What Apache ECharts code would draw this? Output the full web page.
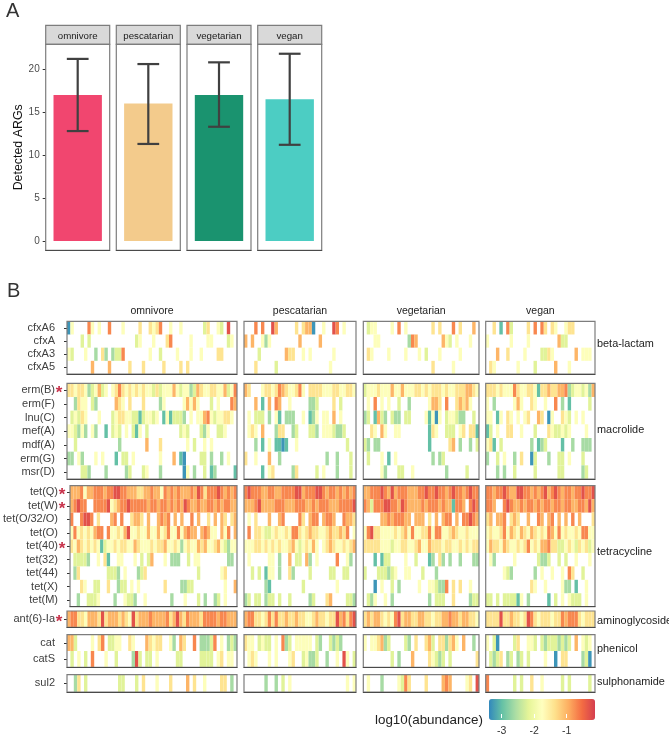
<!DOCTYPE html>
<html><head><meta charset="utf-8">
<style>html,body{margin:0;padding:0;background:#fff}#c{width:669px;height:737px}</style>
<script src="https://cdn.jsdelivr.net/npm/echarts@6/dist/echarts.min.js"></script>
</head><body><div id="c"></div>
<script>
// ---------- Panel A values ----------
const diets = ['omnivore','pescatarian','vegetarian','vegan'];
const meanARGs = [17, 16, 17, 16.5];
const lowARGs  = [12.8, 11.3, 13.3, 11.2];
const highARGs = [21.2, 20.6, 20.8, 21.8];
const barColors = ['#F1466F','#F3CB8C','#1A936F','#4CCDC3'];
const countTicks = [0,5,10,15,20];

// ---------- Panel B labels ----------
const betaLactamGenes = ['cfxA6','cfxA','cfxA3','cfxA5'];
const macrolideGenes = ['erm(B)','erm(F)','lnu(C)','mef(A)','mdf(A)','erm(G)','msr(D)'];
const tetracyclineGenes = ['tet(Q)','tet(W)','tet(O/32/O)','tet(O)','tet(40)','tet(32)','tet(44)','tet(X)','tet(M)'];
const aminoglycosideGenes = ['ant(6)-Ia'];
const phenicolGenes = ['cat','catS'];
const sulphonamideGenes = ['sul2'];
const starredGenes = ['erm(B)','tet(Q)','tet(W)','tet(40)','ant(6)-Ia'];
const classNames = ['beta-lactam','macrolide','tetracycline','aminoglycoside','phenicol','sulphonamide'];
const sampleCounts = [50,33,34,32];
const legendTicks = [-3,-2,-1];

// abundance level read from each cell's colour (. = not detected)
const levelValues = {1:-3.3,2:-3.0,3:-2.6,4:-2.2,5:-1.8,6:-1.4,7:-1.0,8:-0.7,9:-0.3};

const omnivoreCells = [
"15....85.5 ..8...5... .6..6568.. 5..5...... 46..54.9..",
"....4.4... .......... 45...5...6 8.....5... .55....45.",
"54...5..3. 63.3448... ....5..4.. ..5...5..5 ....66....",
".......7.. ..7.....6. ..6.....6. ...6.6.... ..........",
"6656653457 45.5686565 6565546455 5754553476 5566557458",
"..3655.43. ....765.6. ..6....35. ....57575. ..4.5...87",
".45465...5 ...4566554 4245545.25 24443.5.55 785455665.",
"554353.53. .2.454.5.4 25.4...... ...454...4 35..445...",
"..4....... .....3.... ...7...6.. .....5.4.. 5.5.......",
"33.53...5. 5...2.44.5 .......5.. .7.21....4 4.3..3.5..",
"....443... .3.....34. ..45...3.. ....15.3.. 4.23.....2",
"7778577888 7889988777 6677877587 8787778798 6888987878",
"78988..888 8956788988 8887887887 8787987787 7887878877",
"8..8998.6. ..78.8..67 76.7..7878 .7.7..8.7. .6.7.76.67",
"5856565788 .855657955 6557557568 55857877.7 8755.758.7",
"6576565652 4556566557 6555656675 5653565576 7556754355",
".44443..5. 62..55...5 .4.47...5. 333..4.55. .......33.",
".36....... .4443.5... 346....... ........4. .....56...",
"...65..44. .6..344.5. 5.......6. ...3344... ......5..7",
"..3..4445. ...3..5443 ..5....... 3...5...4. 3..34.5...",
"7886657776 9677767659 6777877778 6797687776 8888788777",
"774....5.6 8.4455..65 ...76566.. 53.76..8.3 3348.5.343",
".4.5.4.8.. .5..4....3 94.44.5... ..44.....4 444.56.55.",
"..36.4.... .....44... 4.6...5... 6....7.6.. 5....66.3."
];
const pescatarianCells = [
"...8.8..97 .....6.677 1..5..98.5 ...",
"7.7..535.. ......7... ..7....... ...",
"....4..... ..766..5.5 ......5... ...",
"...6.....4 .......... .....5.... ...",
"76...56656 87655685.6 6665556655 665",
"...7.2.7.8 7..5.....3 34....6.4. ...",
".5.444.3.5 2.333..5.2 35.55.7.5. ...",
".565.7...3 66..34...4 43.5554334 ...",
"...3.2.5.2 212..5.... .......... 4..",
"6..5...7.. 3......... ....3..3.. .4.",
".....2.56. ....36.... .4.5...3.. .4.",
"8988877887 7888899788 8998788787 878",
"7778977778 8877788877 8788877788 889",
".5.6...7.. 78....86.7 88.7887..8 776",
".8.6654456 5565886567 6655676676 8.5",
"5556656565 6556754565 75.5676556 567",
".5.....55. 3..7.44.73 .5.....8.. 53.",
"..4.4.255. 3..63....4 .....44..4 4..",
"......32.. .......4.. .......5.. ...",
"34.44.344. 4..4.....3 4...67.... 443",
"7886656868 6676676655 6766566978 689",
"655.4544.5 .834.55555 .43..4343. ...",
".565...5.5 ...56..453 34..3..5.9 5.4",
"......3..3 .4.5...... .......... 5.5"
];
const vegetarianCells = [
".455....5. 8.5....... 6.6...8.6. ..7.",
"...55..... ...387.... ...754.5.. .5..",
".65....5.. ..5...5.4. ..5.....5. ....",
".......... .......... 6.....5... ....",
"4555655575 5755566565 6665655666 7765",
".5.8.5.5.. 4..3.....5 776.8..676 75..",
"34.2743.43 3.44....52 515.455433 ..4.",
"..65.75..5 5........2 65..444.56 .662",
"43.33..... .........2 .....67.3. .3.4",
".4...5.2.5 .......... 3.34...... ....",
".....53... 44..5..... ....3..... 4...",
"7788898797 8887778898 8988789887 8988",
"8748889988 7987777878 8878772887 .898",
".....77878 8877.777.6 .7.788.7.8 8987",
"5896655556 5675855668 5885567655 6555",
"6666655545 5665567557 6665665565 6566",
"...2.244.. ..5..4...2 3.63.3..3. ..33",
"4...444345 ..55...4.. .3........ ....",
"...1.5..4. 3.....5..5 54338.6.6. .5..",
".435..5.3. .........3 .444..6... .344",
"6767765658 9677667766 5667787767 7665",
"5.556734.. ..43.6..67 4.663675.7 ..3.",
"........4. 3...7....6 5434.4.... ...6",
".5...3.... 5486....6. ...787.... 56.9"
];
const veganCells = [
"..6.2.84.. ..6.8.86.6 5..566.... ..",
"5......5.. ..5....... .744...... ..",
"...7..6... .5....4465 ......7.55 5.",
".65......5 ....4..... 7...5..... ..",
"6665655586 5566526676 6778345545 37",
"5.3.....57 5..65..5.. 8.3.2..... 4.",
"55.25.65.5 .56..76.15 ..654.5.5. ..",
"24.5..66.. 5...4...65 44545....5 ..",
"562.4..... ...3.234.. ..2..3..33 3.",
"3..4.5..3. 6..14...3. .44.5...4. ..",
"...3.3..4. ....4..... .44.....34 ..",
"8878898779 9887878978 9878878898 89",
"887..89877 8788787887 8878877887 97",
"67.778.676 ..7..87.78 .7.7.8.7.. .6",
"5655685765 7657656587 5856556588 55",
"5766576556 5685657786 6445654656 45",
".53.....5. .....4334. .4.4..5... 5.",
".....543.. ....3.5..5 ..5.86..4. ..",
".......... ...65..5.. ..533.2..5 ..",
"44.4.44442 5.3.....2. 4.5.5444.5 ..",
"6666966766 5698656665 6687888656 66",
"5.41....46 ..554.4344 43434.7.54 5.",
".4346.34.3 4.4....5.. 1.66....34 1.",
"8.......4. 4..6..5... ..4.4..... 4."
];
const dietCells = [omnivoreCells,pescatarianCells,vegetarianCells,veganCells];

// ---------- Layout ----------
const FONT = '"Liberation Sans", Arial, sans-serif';
const aCols = [[45.7,109.7],[116.3,180.3],[187,251],[257.7,321.7]];
const bCols = [[67,237],[244,356],[363.3,479],[485.7,595]];
const bRows = [[321.3,374],[383.3,479],[485.7,606.7],[611,627.3],[634.7,667.3],[674.7,692]];
const classLabelY = [344,430,552,621,649,682];
const geneGroups = [betaLactamGenes,macrolideGenes,tetracyclineGenes,aminoglycosideGenes,phenicolGenes,sulphonamideGenes];
const BORDER = '#7d7d7d', BOTTOM = '#4a4a4a';

const grid=[], xAxis=[], yAxis=[], series=[], heatIdx=[];
const title=[
  {text:'A',left:6,top:1,padding:0,textStyle:{fontFamily:FONT,fontSize:20,fontWeight:'normal',color:'#333'}},
  {text:'B',left:7,top:281,padding:0,textStyle:{fontFamily:FONT,fontSize:20,fontWeight:'normal',color:'#333'}},
  {text:'log10(abundance)',left:375,top:714,padding:0,textStyle:{fontFamily:FONT,fontSize:13.4,fontWeight:'normal',color:'#222'}}
];
function addAxes(g,x,y){ grid.push(g); const i=grid.length-1; xAxis.push(Object.assign({gridIndex:i},x)); yAxis.push(Object.assign({gridIndex:i},y)); return i; }

// Panel A
diets.forEach((d,k)=>{
  const [l,r]=aCols[k];
  addAxes({left:l,top:25.3,width:r-l,height:19,show:true,backgroundColor:'#D9D9D9',borderColor:BORDER,borderWidth:1.2},
    {type:'category',data:[d],position:'top',axisLine:{show:false},axisTick:{show:false},
     axisLabel:{margin:-16.5,fontFamily:FONT,fontSize:9.7,color:'#1a1a1a'}},
    {type:'value',show:false,min:0,max:1});
  const gi=addAxes({left:l,top:44.3,width:r-l,height:206,show:true,backgroundColor:'transparent',borderColor:BORDER,borderWidth:1.2,z:5},
    {type:'category',data:[d],axisLine:{show:true,onZero:false,lineStyle:{color:BOTTOM,width:1}},axisTick:{show:false},axisLabel:{show:false},z:6},
    k===0?{type:'value',min:-1.08,max:22.9,splitLine:{show:false},
        axisLine:{show:false},
        axisTick:{show:true,length:3,lineStyle:{color:'#333'},customValues:countTicks},
        axisLabel:{show:true,margin:6,fontFamily:FONT,fontSize:10,color:'#4d4d4d',customValues:countTicks},
        name:'Detected ARGs',nameLocation:'middle',nameGap:15,nameTextStyle:{fontFamily:FONT,fontSize:12.4,color:'#111'}}
      :{type:'value',min:-1.08,max:22.9,show:false,splitLine:{show:false}});
  series.push({type:'bar',xAxisIndex:gi,yAxisIndex:gi,data:[meanARGs[k]],barWidth:'75.6%',z:1,silent:true,itemStyle:{color:barColors[k]}});
  series.push({type:'custom',xAxisIndex:gi,yAxisIndex:gi,z:3,silent:true,
    data:[[0,lowARGs[k],highARGs[k]]],
    encode:{x:0,y:[1,2]},
    renderItem:(p,api)=>{
      const lo=api.coord([api.value(0),api.value(1)]), hi=api.coord([api.value(0),api.value(2)]);
      const h=api.size([1,0])[0]*0.17;
      const st={stroke:'#404040',lineWidth:2.2,fill:null};
      return {type:'group',children:[
        {type:'line',shape:{x1:lo[0],y1:lo[1],x2:hi[0],y2:hi[1]},style:st},
        {type:'line',shape:{x1:lo[0]-h,y1:lo[1],x2:lo[0]+h,y2:lo[1]},style:st},
        {type:'line',shape:{x1:hi[0]-h,y1:hi[1],x2:hi[0]+h,y2:hi[1]},style:st}]};
    }});
});

// Panel B
const geneOffset=[]; let off=0; geneGroups.forEach(g=>{geneOffset.push(off);off+=g.length;});
function decode(str){
  return str.split(' ').map((g,i,a)=>i<a.length-1?g.padEnd(10,'.').slice(0,10):g).join('');
}
const rowLabel=v=> starredGenes.includes(v)?`{n|${v}}{s|*}`:`{n|${v}}{g| }`;
const renderCell=(p,api)=>{
  const c=api.coord([api.value(0),api.value(1)]), s=api.size([1,1]);
  return {type:'rect',shape:{x:c[0]-s[0]/2,y:c[1]-s[1]/2,width:s[0],height:s[1]},style:{fill:api.visual('color')}};
};
geneGroups.forEach((genes,ri)=>{
  const [t,b]=bRows[ri];
  diets.forEach((d,ci)=>{
    const [l,r]=bCols[ci];
    const cats=Array.from({length:sampleCounts[ci]},(_,i)=>String(i));
    const gi=addAxes({left:l,top:t,width:r-l,height:b-t,show:true,backgroundColor:'transparent',borderColor:BORDER,borderWidth:1.2,z:5},
      {type:'category',data:cats,axisLine:{show:true,onZero:false,lineStyle:{color:BOTTOM,width:1}},axisTick:{show:false},axisLabel:{show:false},splitLine:{show:false},z:6},
      {type:'category',data:genes,inverse:true,splitLine:{show:false},axisLine:{show:false},
       axisTick:{show:ci===0,length:3,alignWithLabel:true,interval:0,lineStyle:{color:'#333'}},
       axisLabel:{show:ci===0,interval:0,margin:4,formatter:rowLabel,
         rich:{n:{fontFamily:FONT,fontSize:11,color:'#404040'},
               s:{fontFamily:FONT,fontSize:17,fontWeight:'bold',color:'#C8324B',width:8,align:'center',padding:[6,0,0,0]},
               g:{fontSize:11,width:8}}}});
    const data=[];
    genes.forEach((gene,gidx)=>{
      const s=decode(dietCells[ci][geneOffset[ri]+gidx]);
      for(let c=0;c<sampleCounts[ci];c++){
        const v=levelValues[s[c]];
        if(v!==undefined) data.push([c,gidx,v]);
      }
    });
    series.push({type:'custom',xAxisIndex:gi,yAxisIndex:gi,data,z:1,silent:true,encode:{x:0,y:1},renderItem:renderCell,progressive:0});
    heatIdx.push(series.length-1);
    if(ri===0) title.push({text:d,left:(l+r)/2,textAlign:'center',top:306,padding:0,textStyle:{fontFamily:FONT,fontSize:10.5,fontWeight:'normal',color:'#222'}});
  });
  title.push({text:classNames[ri],left:597,top:classLabelY[ri]-6,padding:0,textStyle:{fontFamily:FONT,fontSize:10.9,fontWeight:'normal',color:'#222'}});
});

// colour-bar axis
addAxes({left:489,top:699,width:106,height:21},
  {type:'value',min:-3.39,max:-0.13,splitLine:{show:false},axisLine:{show:false},z:10,
   axisTick:{show:true,inside:true,length:4,lineStyle:{color:'#fff',width:1},customValues:legendTicks},
   axisLabel:{show:true,margin:8,fontFamily:FONT,fontSize:10.5,color:'#333',customValues:legendTicks}},
  {type:'value',show:false,min:0,max:1});

const chart=echarts.init(document.getElementById('c'),null,{renderer:'canvas'});
chart.setOption({
  animation:false,backgroundColor:'#fff',title,grid,xAxis,yAxis,series,
  visualMap:{type:'continuous',seriesIndex:heatIdx,dimension:2,min:-3.39,max:-0.13,orient:'horizontal',left:489,top:699,
    itemWidth:21,itemHeight:106,padding:0,calculable:false,realtime:false,hoverLink:false,text:null,
    inRange:{color:['#3288BD','#66C2A5','#ABDDA4','#E6F598','#FFFFBF','#FEE08B','#FDAE61','#F46D43','#D53E4F']}}
});
</script></body></html>
